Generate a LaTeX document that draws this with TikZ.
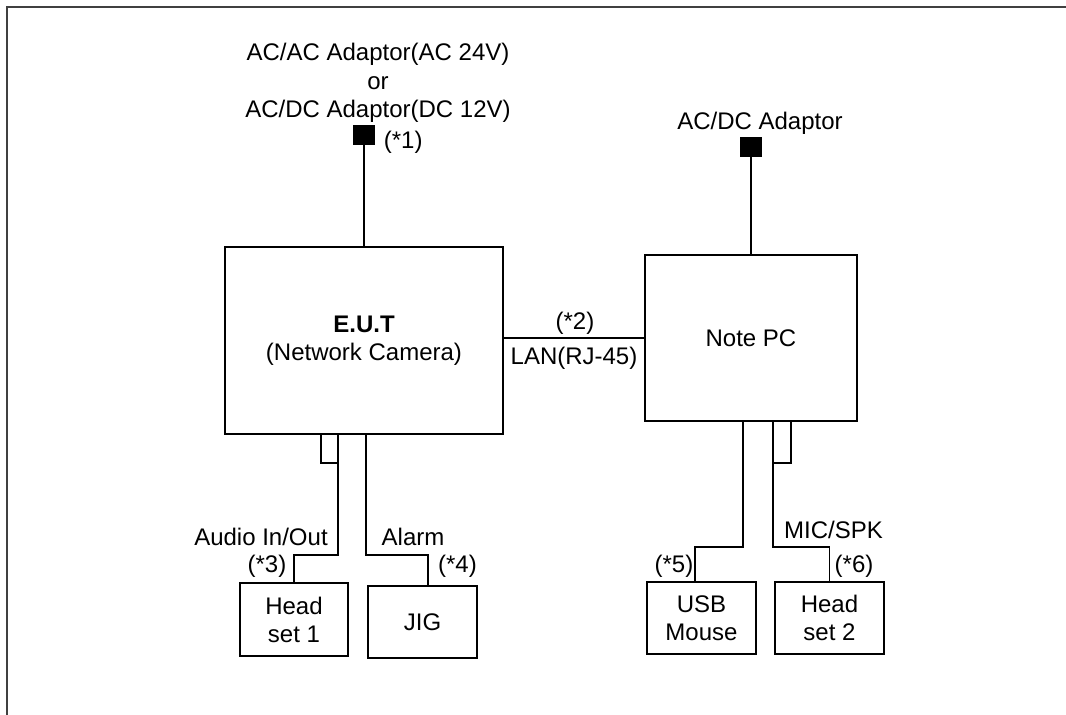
\documentclass[tikz,border=0pt]{standalone}
\usepackage{fontspec}
\setmainfont{Liberation Sans}
\usetikzlibrary{positioning}

\begin{document}
\begin{tikzpicture}[x=1pt, y=-1pt, line width=1.8pt,
  caixa/.style={draw, align=center, font=\fontsize{24}{28}\selectfont, inner sep=0pt},
  plug/.style={draw, fill=black, minimum width=20pt, minimum height=18pt, inner sep=0pt},
  rotulo/.style={align=center, font=\fontsize{24}{28.5}\selectfont, inner sep=0pt},
  moldura/.style={draw=black!75, line width=2.4pt}]
\useasboundingbox (0,0) rectangle (1066,715);
\draw[moldura] (7,715) -- (7,7) -- (1066,7);
% main units
\node[caixa, minimum width=278pt, minimum height=187pt] (eut) at (364,340.5) {\textbf{E.U.T}\\(Network Camera)};
\node[caixa, minimum width=212pt, minimum height=166pt] (note) at (751,338) {Note PC};
% peripherals
\node[caixa, minimum width=108pt, minimum height=73pt] (hs1) at (294,619.5) {Head\\set 1};
\node[caixa, minimum width=109pt, minimum height=72pt] (jig) at (422.5,622) {JIG};
\node[caixa, minimum width=109pt, minimum height=72pt] (usb) at (701.5,618) {USB\\Mouse};
\node[caixa, minimum width=109pt, minimum height=72pt] (hs2) at (829.5,618) {Head\\set 2};
% adaptors
\node[plug, above=101pt of eut] (ad1) {};
\node[plug, above=97pt of note] (ad2) {};
\node[rotulo] (ad1txt) at (378,83) {AC/AC Adaptor(AC 24V)\\or\hspace*{33pt}\\AC/DC Adaptor(DC 12V)};
\node[rotulo, anchor=west] (n1) at (383,142) {(*1)};
\node[rotulo] (ad2txt) at (760,123) {AC/DC Adaptor};
% cables
\draw (ad1) -- (eut);
\draw (ad2) -- (note);
\draw (note.west) -- (note.west -| eut.east);
\node[rotulo] (n2) at (575,323) {(*2)};
\node[rotulo] (lan) at (574,358) {LAN(RJ-45)};
\coordinate (aud) at (338,555);
\coordinate (audloop) at (321,463);
\draw (aud |- eut.south) -- (aud) -| (hs1.north);
\draw (audloop |- eut.south) -- (audloop) -- (audloop -| aud);
\coordinate (alm) at (366,555);
\draw (alm |- eut.south) -- (alm) -| ([xshift=5.5pt]jig.north);
\coordinate (mouse) at (743,547);
\draw (mouse |- note.south) -- (mouse) -| ([xshift=-6.5pt]usb.north);
\coordinate (mic) at (773,547);
\coordinate (micloop) at (791,463);
\draw (mic |- note.south) -- (mic) -| (hs2.north);
\draw (micloop |- note.south) -- (micloop) -- (micloop -| mic);
% cable labels
\node[rotulo] (audtxt) at (261,537) {Audio In/Out};
\node[rotulo] (n3) at (267,566) {(*3)};
\node[rotulo] (almtxt) at (413,537) {Alarm};
\node[rotulo] (n4) at (457.5,566) {(*4)};
\node[rotulo] (mictxt) at (833.5,530) {MIC/SPK};
\node[rotulo] (n5) at (674,566) {(*5)};
\node[rotulo] (n6) at (854,566) {(*6)};
\end{tikzpicture}
\end{document}
